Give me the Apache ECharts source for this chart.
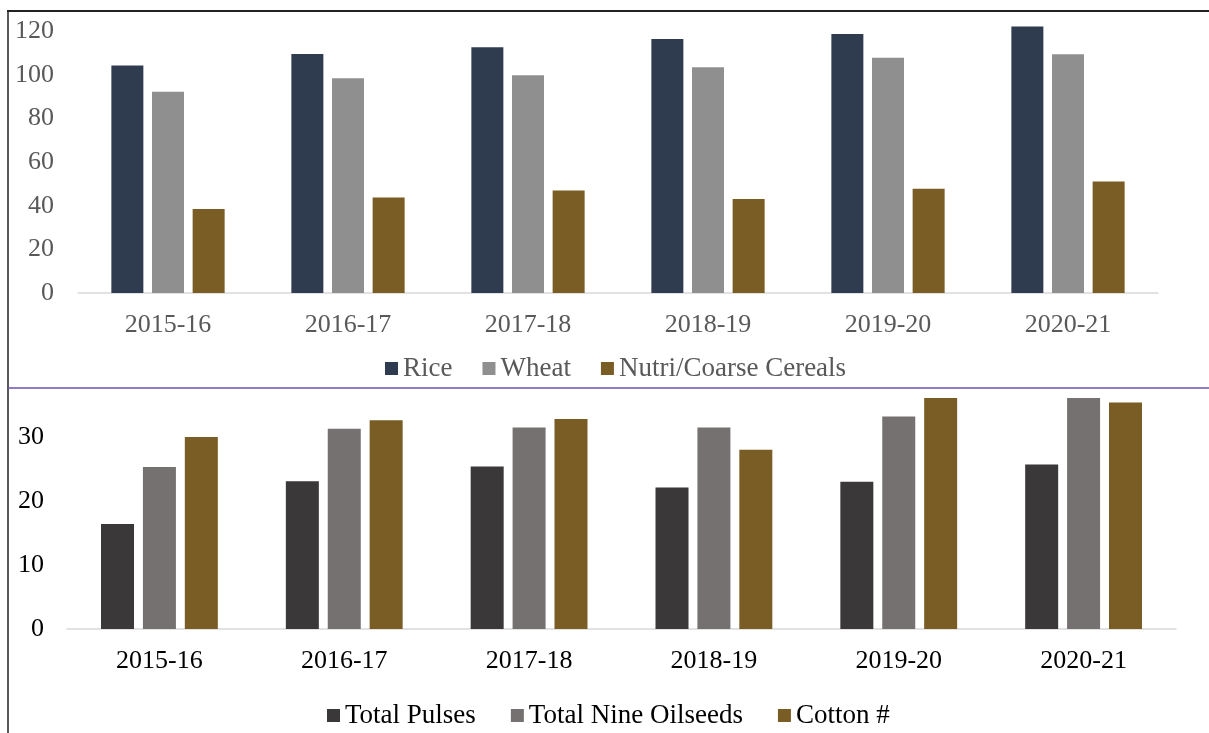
<!DOCTYPE html>
<html>
<head>
<meta charset="utf-8">
<script src="https://cdn.jsdelivr.net/npm/echarts@6/dist/echarts.min.js"></script>
<style>
  html, body { margin: 0; padding: 0; background: #fff; }
  #chart { width: 1209px; height: 733px; }
</style>
</head>
<body>
<div id="chart"></div>
<script>
const years = ['2015-16', '2016-17', '2017-18', '2018-19', '2019-20', '2020-21']

// top panel (million tonnes)
const rice = [104.4, 109.7, 112.8, 116.5, 118.9, 122.3]
const wheat = [92.3, 98.5, 99.9, 103.6, 107.9, 109.5]
const cereals = [38.5, 43.8, 47.0, 43.1, 47.8, 51.2]

// bottom panel
const pulses = [16.4, 23.1, 25.4, 22.1, 23.0, 25.7]
const oilseeds = [25.3, 31.3, 31.5, 31.5, 33.2, 36.1]
const cotton = [30.0, 32.6, 32.8, 28.0, 36.1, 35.4]

const font = 'Liberation Serif, Times New Roman, serif'
const axisGray = '#595959'

function bar (name, data, color, idx) {
  return {
    name: name,
    type: 'bar',
    xAxisIndex: idx,
    yAxisIndex: idx,
    data: data,
    barWidth: idx === 0 ? 32 : 33,
    barGap: '27%',
    itemStyle: { color: color },
    animation: false
  }
}

const chart = echarts.init(document.getElementById('chart'))
chart.setOption({
  animation: false,
  grid: [
    { left: 78, right: 51, top: 11, bottom: 440 },
    { left: 67, right: 33, top: 389, bottom: 104 }
  ],
  xAxis: [
    {
      type: 'category',
      gridIndex: 0,
      data: years,
      axisLine: { lineStyle: { color: '#d9d9d9', width: 1.5 } },
      axisTick: { show: false },
      axisLabel: { color: axisGray, fontFamily: font, fontSize: 26, margin: 19 }
    },
    {
      type: 'category',
      gridIndex: 1,
      data: years,
      axisLine: { lineStyle: { color: '#d9d9d9', width: 1.5 } },
      axisTick: { show: false },
      axisLabel: { color: '#000', fontFamily: font, fontSize: 26, margin: 19 }
    }
  ],
  yAxis: [
    {
      type: 'value',
      gridIndex: 0,
      min: 0,
      max: 129.4,
      interval: 20,
      splitLine: { show: false },
      axisLine: { show: false },
      axisTick: { show: false },
      axisLabel: { color: axisGray, fontFamily: font, fontSize: 26, margin: 24, showMaxLabel: false }
    },
    {
      type: 'value',
      gridIndex: 1,
      min: 0,
      max: 37.5,
      interval: 10,
      splitLine: { show: false },
      axisLine: { show: false },
      axisTick: { show: false },
      axisLabel: { color: '#000', fontFamily: font, fontSize: 26, margin: 23, showMaxLabel: false }
    }
  ],
  legend: [
    {
      data: ['Rice', 'Wheat', 'Nutri/Coarse Cereals'],
      left: 385,
      top: 355,
      padding: 0,
      icon: 'rect',
      itemWidth: 13,
      itemHeight: 13,
      itemGap: 30,
      textStyle: { color: axisGray, fontFamily: font, fontSize: 27 }
    },
    {
      data: ['Total Pulses', 'Total Nine Oilseeds', 'Cotton #'],
      left: 327,
      top: 702,
      padding: 0,
      icon: 'rect',
      itemWidth: 13,
      itemHeight: 13,
      itemGap: 35,
      textStyle: { color: '#000', fontFamily: font, fontSize: 27 }
    }
  ],
  graphic: [
    { type: 'line', shape: { x1: 7, y1: 11, x2: 1209, y2: 11 }, style: { stroke: '#222', lineWidth: 2 } },
    { type: 'line', shape: { x1: 8, y1: 10, x2: 8, y2: 733 }, style: { stroke: '#222', lineWidth: 1.5 } },
    { type: 'line', shape: { x1: 8, y1: 388, x2: 1209, y2: 388 }, style: { stroke: '#6a4fb3', lineWidth: 1.5 } }
  ],
  series: [
    bar('Rice', rice, '#2f3c4f', 0),
    bar('Wheat', wheat, '#8f8f8f', 0),
    bar('Nutri/Coarse Cereals', cereals, '#7a5c25', 0),
    bar('Total Pulses', pulses, '#3a3838', 1),
    bar('Total Nine Oilseeds', oilseeds, '#767171', 1),
    bar('Cotton #', cotton, '#7a5c25', 1)
  ]
})
</script>
</body>
</html>
